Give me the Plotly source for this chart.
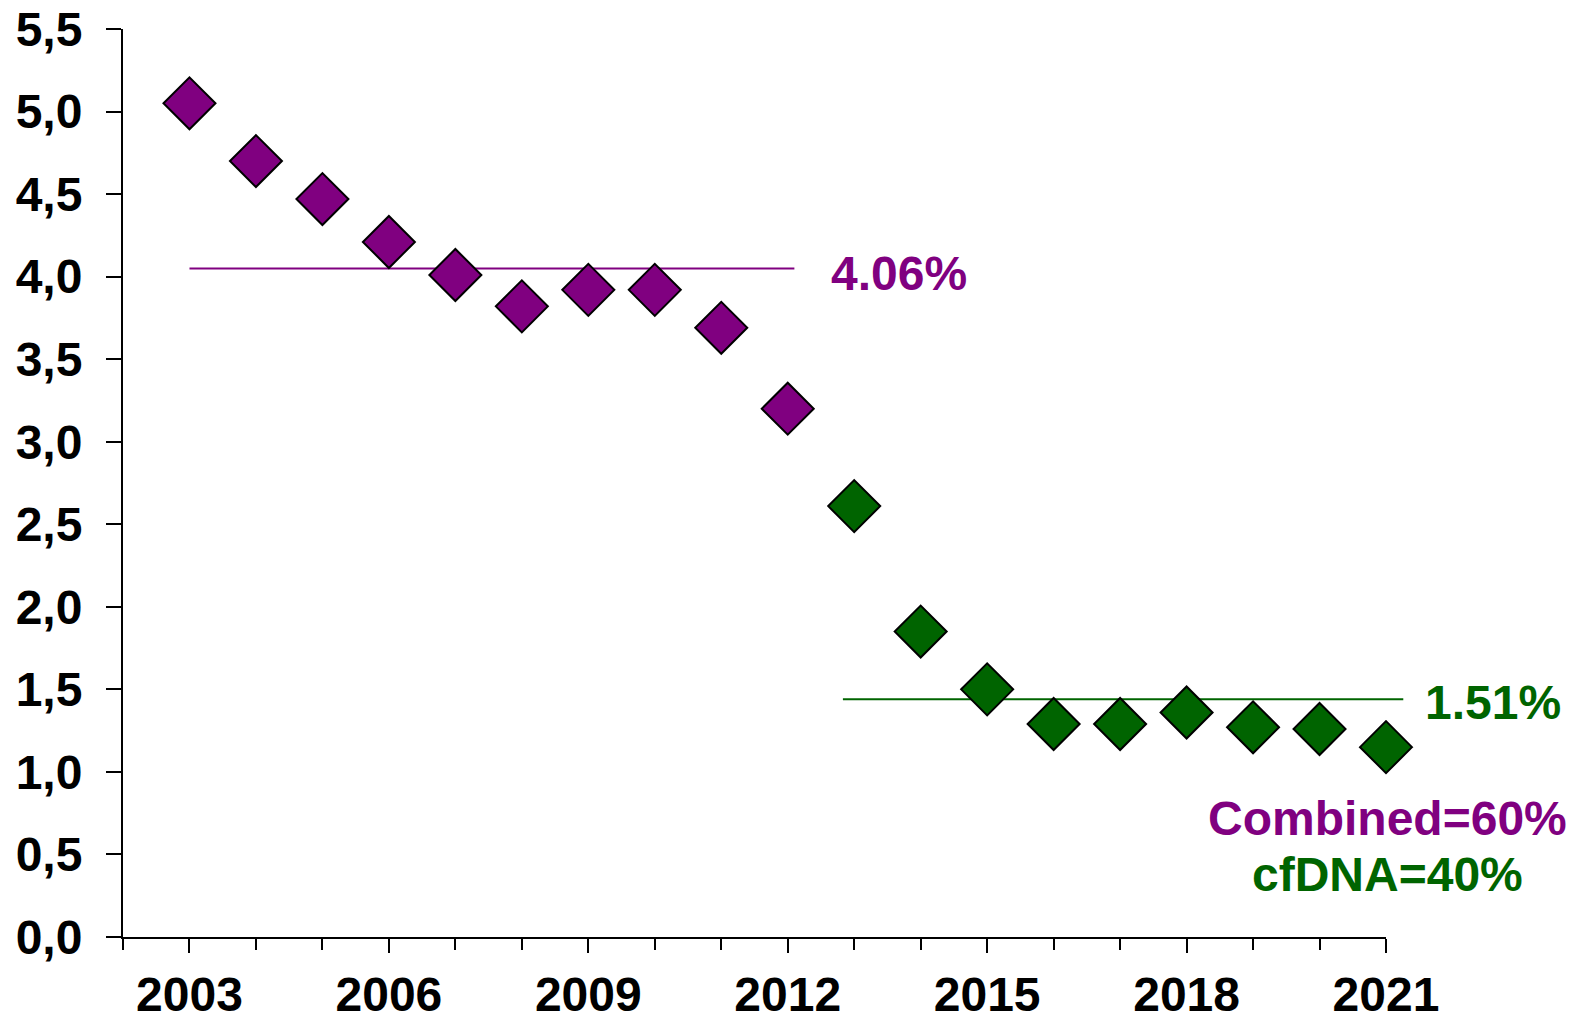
import plotly.graph_objects as go

# detection rate by year
years = list(range(2003, 2022))
rates = [5.05, 4.70, 4.47, 4.21, 4.01, 3.82, 3.92, 3.92, 3.69, 3.20,
         2.61, 1.85, 1.50, 1.29, 1.29, 1.36, 1.27, 1.26, 1.15]
groups = ["Combined"] * 10 + ["cfDNA"] * 9

# period averages (drawn as horizontal lines)
avg_labels = ["4.06%", "1.51%"]
avg_levels = [4.05, 1.44]
avg_start = [2003, 2012.83]
avg_end = [2012.1, 2021.26]

share_labels = ["Combined=60%", "cfDNA=40%"]

COLORS = {"Combined": "#800080", "cfDNA": "#006400"}
FONT = "Liberation Sans, Arial, sans-serif"
X_RANGE = [2002, 2021]


def xp(year):
    # data year -> paper fraction, so marks past the last tick are not clipped
    return (year - X_RANGE[0]) / (X_RANGE[1] - X_RANGE[0])


fig = go.Figure()
fig.add_trace(go.Scatter(
    x=years, y=rates, mode="markers",
    marker=dict(symbol="diamond", size=40,
                color=[COLORS[g] for g in groups],
                line=dict(color="black", width=2)),
    cliponaxis=False, showlegend=False,
))

for grp, lvl, x0, x1 in zip(COLORS, avg_levels, avg_start, avg_end):
    fig.add_shape(type="line", xref="paper", yref="y", x0=xp(x0), x1=xp(x1),
                  y0=lvl, y1=lvl, line=dict(color=COLORS[grp], width=2),
                  layer="below")

fig.add_annotation(xref="paper", x=xp(2012.62), y=4.02, text=avg_labels[0],
                   showarrow=False, xanchor="left", yanchor="middle",
                   font=dict(family=FONT, size=48, color=COLORS["Combined"], weight="bold"))
fig.add_annotation(xref="paper", x=xp(2021.56), y=1.42, text=avg_labels[1],
                   showarrow=False, xanchor="left", yanchor="middle",
                   font=dict(family=FONT, size=48, color=COLORS["cfDNA"], weight="bold"))
for lab, grp, yy in zip(share_labels, ["Combined", "cfDNA"], [0.715, 0.38]):
    fig.add_annotation(xref="paper", x=xp(2021.03), y=yy, text=lab, showarrow=False,
                       xanchor="center", yanchor="middle",
                       font=dict(family=FONT, size=48, color=COLORS[grp], weight="bold"))

tick_font = dict(family=FONT, size=48, color="black", weight="bold")
fig.update_layout(
    width=1581, height=1006, autosize=False,
    margin=dict(l=115, r=203, t=21, b=77),
    plot_bgcolor="white", paper_bgcolor="white",
    separators=",.",
    xaxis=dict(range=X_RANGE, showline=True, linecolor="black", linewidth=2,
               showgrid=False, zeroline=False, automargin=False,
               tick0=2003, dtick=3, tickformat="d",
               ticks="outside", ticklen=14, tickwidth=2, tickcolor="black",
               ticklabelstandoff=0, ticklabeloverflow="allow",
               minor=dict(dtick=1, tick0=2003, ticks="outside", ticklen=11,
                          tickwidth=2, tickcolor="black"),
               tickfont=tick_font),
    yaxis=dict(range=[0, 5.5], showline=True, linecolor="black", linewidth=2,
               showgrid=False, zeroline=False, automargin=False,
               dtick=0.5, tickformat=".1f",
               ticks="outside", ticklen=15, tickwidth=2, tickcolor="black",
               ticklabelstandoff=14, ticklabeloverflow="allow",
               tickfont=tick_font),
)

fig.write_html("out.html")
